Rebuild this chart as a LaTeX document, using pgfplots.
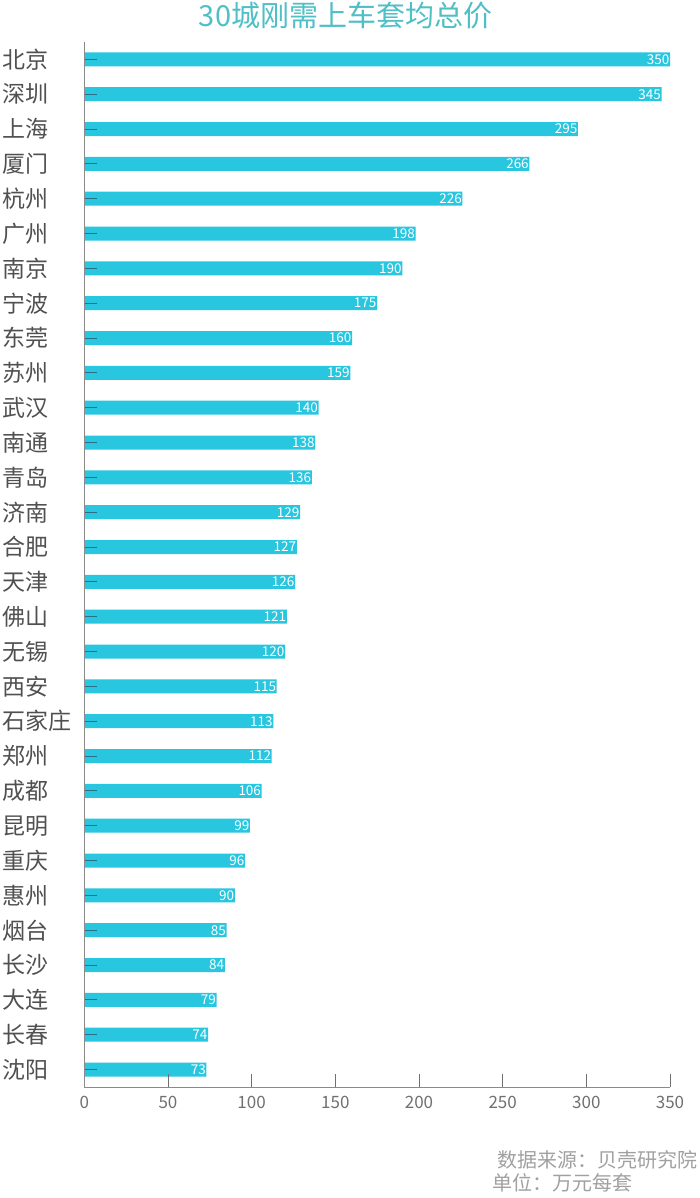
\documentclass[border=0pt]{standalone}
\usepackage{fontspec}
\setmainfont{Noto Sans CJK SC}
\usepackage{pgfplots}
\pgfplotsset{compat=1.18}
\definecolor{barc}{HTML}{29C6E0}
\definecolor{titlec}{HTML}{4FBFC6}
\definecolor{labc}{HTML}{505050}
\definecolor{tickc}{HTML}{707070}
\definecolor{footc}{HTML}{A0A0A0}
\definecolor{axc}{HTML}{8A8A8A}
\definecolor{ytc}{HTML}{2A6F85}
\begin{document}
\begin{tikzpicture}
\path[use as bounding box] (0,0) rectangle (700pt,1198pt);
\begin{axis}[
  at={(84.3pt,111pt)}, anchor=south west,
  scale only axis, width=585.7pt, height=1045pt,
  xbar, bar width=14pt,
  xmin=0, xmax=350, ymin=-0.5, ymax=29.5,
  axis on top,
  axis x line*=bottom, axis y line*=left,
  axis line style={axc, line width=0.8pt},
  xtick={0,50,...,350},
  xtick style={tickc, line width=0.8pt},
  major tick length=13pt,
  tick align=inside,
  xticklabel style={font=\fontsize{17}{20}\selectfont, text=tickc, yshift=-6pt},
  /pgf/number format/assume math mode=true,
  ytick={0,...,29},
  ytick style={ytc, line width=1pt},
  yticklabels={沈阳,长春,大连,长沙,烟台,惠州,重庆,昆明,成都,郑州,石家庄,西安,无锡,佛山,天津,合肥,济南,青岛,南通,武汉,苏州,东莞,宁波,南京,广州,杭州,厦门,上海,深圳,北京},
  yticklabel style={font=\fontsize{23}{26}\selectfont, text=labc, anchor=west, inner sep=0pt, xshift=-82.3pt},
  nodes near coords,
  nodes near coords style={anchor=east, text=white, font=\fontsize{13.5}{14}\selectfont, inner sep=0.5pt},
  clip=false,
]
\addplot[fill=barc, draw=none] coordinates {
(73,0) (74,1) (79,2) (84,3) (85,4) (90,5) (96,6) (99,7) (106,8) (112,9)
(113,10) (115,11) (120,12) (121,13) (126,14) (127,15) (129,16) (136,17) (138,18) (140,19)
(159,20) (160,21) (175,22) (190,23) (198,24) (226,25) (266,26) (295,27) (345,28) (350,29)
};
\end{axis}
\node[text=titlec, font=\fontsize{29}{32}\selectfont, inner sep=0pt] at (345.5pt,1182pt) {30城刚需上车套均总价};
\node[text=footc, font=\fontsize{20}{22}\selectfont, anchor=east, inner sep=0pt] at (698pt,38pt) {数据来源：贝壳研究院};
\node[text=footc, font=\fontsize{20}{22}\selectfont, anchor=west, inner sep=0pt] at (492pt,15pt) {单位：万元每套};
\end{tikzpicture}
\end{document}
